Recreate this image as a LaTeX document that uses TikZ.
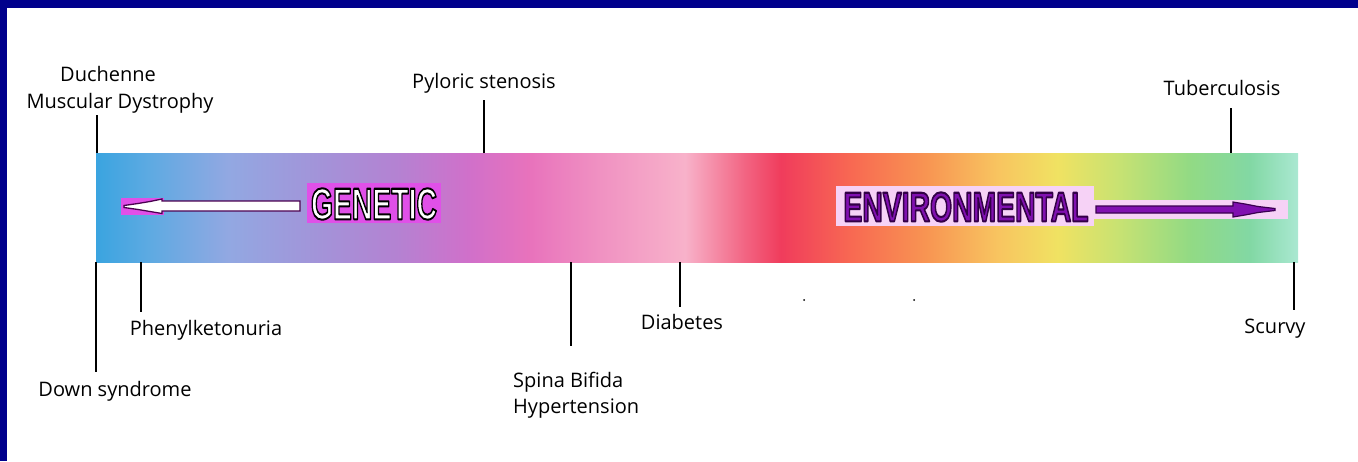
\documentclass[tikz,border=0pt]{standalone}
\usepackage{fontspec}
\setmainfont{Liberation Sans}
\newfontfamily\lblfont{Open Sans}
\usetikzlibrary{fadings,calc}
\definecolor{frameblue}{HTML}{00008C}
\definecolor{genmag}{HTML}{E050E8}
\definecolor{genline}{HTML}{4A0050}
\definecolor{envpurple}{HTML}{8010B0}
\definecolor{envline}{HTML}{3A0050}
\definecolor{envpink}{HTML}{F6D2F6}
\definecolor{c0}{HTML}{3AA4E0}
\definecolor{c1}{HTML}{5EAAE2}
\definecolor{c2}{HTML}{92A8E2}
\definecolor{c3}{HTML}{A492D8}
\definecolor{c4}{HTML}{B482D2}
\definecolor{c5}{HTML}{D070CA}
\definecolor{c6}{HTML}{E872BC}
\definecolor{c7}{HTML}{F092C2}
\definecolor{c8}{HTML}{F8B2CA}
\definecolor{c9}{HTML}{F26482}
\definecolor{c10}{HTML}{F03C5C}
\definecolor{c11}{HTML}{F86A52}
\definecolor{c12}{HTML}{F89452}
\definecolor{c13}{HTML}{F8C460}
\definecolor{c14}{HTML}{F0E262}
\definecolor{c15}{HTML}{C8E272}
\definecolor{c16}{HTML}{92DA84}
\definecolor{c17}{HTML}{82D8A4}
\definecolor{c18}{HTML}{AAE8D2}
\pgfdeclarehorizontalshading{spectrum}{100bp}{color(0bp)=(c0); color(25bp)=(c0); color(27.25bp)=(c1); color(30.5bp)=(c2); color(34.5bp)=(c3); color(37.5bp)=(c4); color(40.5bp)=(c5); color(43bp)=(c6); color(46bp)=(c7); color(49.5bp)=(c8); color(52bp)=(c9); color(53.5bp)=(c10); color(56.5bp)=(c11); color(59.5bp)=(c12); color(62.5bp)=(c13); color(65bp)=(c14); color(67.5bp)=(c15); color(70.5bp)=(c16); color(73bp)=(c17); color(75bp)=(c18); color(100bp)=(c18)}
\tikzfading[name=midglow, top color=transparent!100, middle color=transparent!75, bottom color=transparent!100]
% outlined text: fill with current colour, stroke with the given rgb
\newcommand{\strokedword}[3]{\special{pdf:literal direct 2 Tr 1 j #1 RG #2 w}#3\special{pdf:literal direct 0 Tr}}
\tikzset{
  lbl/.style={font=\lblfont\fontsize{20}{24}\selectfont, inner sep=0pt, anchor=base, text=black},
  lblw/.style={lbl, anchor=base west},
  tick/.style={line width=2.2pt, black},
  bigword/.style={inner sep=0pt, font=\bfseries},
}
\begin{document}
\begin{tikzpicture}[x=1pt,y=-1pt]
\useasboundingbox (0,0) rectangle (1358,461);
\fill[white] (0,0) rectangle (1358,461);
\fill[frameblue] (0,0) rectangle (1358,8);
\fill[frameblue] (0,0) rectangle (7,461);

% band
\node[minimum width=1202pt, minimum height=109pt, inner sep=0pt, shading=spectrum] (band) at (697,207.5) {};
\fill[white, path fading=midglow] (band.north west) rectangle (band.south east);

% genetic arrow and word
\fill[genmag] (121,198) rectangle (164,214.5);
\fill[genmag] (307,183) rectangle (441,223);
\draw[genline, fill=white, line width=1.3pt, line join=miter]
  (300,201) -- (162,201) -- (162,199) -- (150,201.5) -- (138,203.5) -- (124,205.5)
  -- (124,207.5) -- (138,209.5) -- (150,211.5) -- (162,213.5) -- (162,211) -- (300,211) -- cycle;
\node[bigword, text=white] (gen) at (374,204) {\resizebox{126pt}{31pt}{\strokedword{0 0 0}{0.45}{GENETIC}}};

% environmental word and arrow
\fill[envpink] (836,186) rectangle (1094,226);
\fill[envpink] (1094,200) rectangle (1288,219);
\node[bigword, text=envpurple] (env) at (966,207) {\resizebox{245pt}{29pt}{\strokedword{0.2 0 0.28}{0.5}{ENVIRONMENTAL}}};
\draw[envline, fill=envpurple, line width=1.2pt, line join=miter]
  (1096,206) -- (1233,206) -- (1233,202) -- (1245,204) -- (1258,206.5) -- (1275,208.5)
  -- (1275,210.5) -- (1258,212.5) -- (1245,215) -- (1233,217) -- (1233,213) -- (1096,213) -- cycle;

% labels above
\node[lbl] (duch1) at (108,81) {Duchenne};
\node[lbl] (duch2) at (120,108) {Muscular Dystrophy};
\node[lbl] (pyl) at (484,88) {Pyloric stenosis};
\node[lbl] (tb) at (1222,95) {Tuberculosis};
% labels below
\node[lbl] (down) at (115,396) {Down syndrome};
\node[lbl] (phen) at (206,335) {Phenylketonuria};
\node[lblw] (sb1) at (513,387) {Spina Bifida};
\node[lblw] (sb2) at (513,413) {Hypertension};
\node[lbl] (diab) at (682,329) {Diabetes};
\node[lbl] (scurvy) at (1275,333) {Scurvy};

% tick end points
\coordinate (tduch) at (97,115);
\coordinate (tpyl) at (484,100);
\coordinate (ttb) at (1231,108);
\coordinate (tdown) at (96,372);
\coordinate (tphen) at (141,312);
\coordinate (tsb) at (571,346);
\coordinate (tdiab) at (680,307);
\coordinate (tscurvy) at (1294,310);
\draw[tick] (tduch) -- (tduch |- band.north);
\draw[tick] (tpyl) -- (tpyl |- band.north);
\draw[tick] (ttb) -- (ttb |- band.north);
\draw[tick] (tdown |- band.south) -- (tdown);
\draw[tick] (tphen |- band.south) -- (tphen);
\draw[tick] (tsb |- band.south) -- (tsb);
\draw[tick] (tdiab |- band.south) -- (tdiab);
\draw[tick] (tscurvy |- band.south) -- (tscurvy);

% stray dots
\fill[black] (804,300) circle (1pt);
\fill[black] (914,300) circle (1pt);
\end{tikzpicture}
\end{document}
